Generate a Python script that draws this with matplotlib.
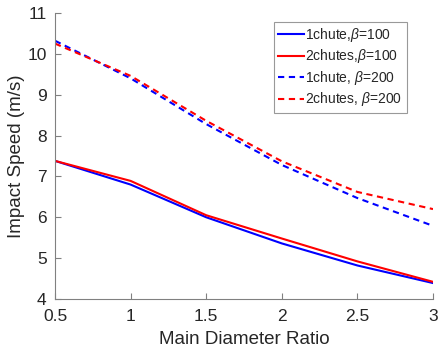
import matplotlib
matplotlib.use("Agg")
import matplotlib.pyplot as plt

plt.rcParams['font.family'] = ['Liberation Sans', 'DejaVu Sans']
plt.rcParams['mathtext.fontset'] = 'custom'
plt.rcParams['mathtext.it'] = 'Liberation Sans:italic'

# diameter ratio
ratio = [0.5, 1.0, 1.5, 2.0, 2.5, 3.0]
# impact speeds (m/s)
one_b100 = [7.38, 6.80, 6.00, 5.36, 4.82, 4.39]
two_b100 = [7.38, 6.89, 6.05, 5.48, 4.92, 4.42]
one_b200 = [10.32, 9.40, 8.28, 7.28, 6.47, 5.79]
two_b200 = [10.25, 9.46, 8.36, 7.37, 6.62, 6.20]

labels = ['1chute,$\\beta$=100', '2chutes,$\\beta$=100',
          '1chute, $\\beta$=200', '2chutes, $\\beta$=200']

fig = plt.figure(figsize=(4.38, 3.54), dpi=100)
ax = fig.add_axes([0.1256, 0.1554, 0.863, 0.808])

dash = (3, 2.2)
ax.plot(ratio, one_b100, '-', color='#0000ff', lw=1.5, label=labels[0])
ax.plot(ratio, two_b100, '-', color='#ff0000', lw=1.5, label=labels[1])
ax.plot(ratio, one_b200, '--', dashes=dash, color='#0000ff', lw=1.5, label=labels[2])
ax.plot(ratio, two_b200, '--', dashes=dash, color='#ff0000', lw=1.5, label=labels[3])

ax.set_xlim(0.5, 3)
ax.set_ylim(4, 11)
ax.set_xticks([0.5, 1, 1.5, 2, 2.5, 3])
ax.set_xticklabels(['0.5', '1', '1.5', '2', '2.5', '3'])
ax.set_yticks(range(4, 12))

gray = '#262626'
for s in ['top', 'right']:
    ax.spines[s].set_visible(False)
for s in ['left', 'bottom']:
    ax.spines[s].set_color('#808080')
ax.tick_params(direction='in', length=4, colors='#808080', labelcolor=gray,
               labelsize=12.5)
ax.tick_params(axis='y', pad=6)
ax.tick_params(axis='x', pad=7)

ax.set_xlabel('Main Diameter Ratio', fontsize=13.5, color=gray, labelpad=5)
ax.set_ylabel('Impact Speed (m/s)', fontsize=13.5, color=gray, labelpad=2)

leg = ax.legend(loc='upper right', bbox_to_anchor=(0.93, 0.969), fontsize=10,
                frameon=True, fancybox=False, handlelength=1.9,
                handletextpad=0.1, borderpad=0.3, labelspacing=0.25,
                borderaxespad=0)
leg.get_frame().set_edgecolor('#808080')
leg.get_frame().set_linewidth(0.8)
for t in leg.get_texts():
    t.set_color(gray)

fig.savefig('out.png', dpi=100)
